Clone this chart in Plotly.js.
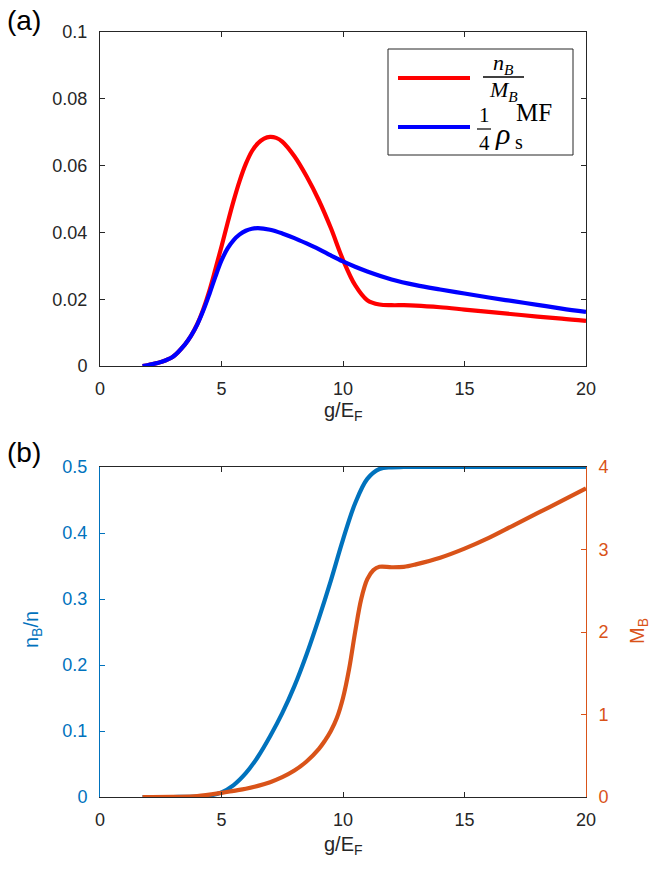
<!DOCTYPE html>
<html><head><meta charset="utf-8">
<script src="https://cdn.plot.ly/plotly-3.0.1.min.js"></script>
<style>body{margin:0;background:#fff;} #chart{width:664px;height:883px;}</style>
</head><body><div id="chart"></div>
<script>
// ---- Panel (a) data ----
const gRatio = [1.75, 2, 2.5, 3, 3.5, 3.75, 4, 4.25, 4.5, 4.75, 5, 5.25, 5.5, 5.75, 6, 6.25, 6.5, 6.75, 7, 7.25, 7.5, 8, 8.5, 9, 9.5, 10, 10.5, 11, 11.5, 12, 12.5, 13, 14, 15, 16, 17, 18, 19, 20];
const ratioNM = [0, 0.0003, 0.0012, 0.0028, 0.0065, 0.0091, 0.0125, 0.017, 0.0225, 0.029, 0.0358, 0.0428, 0.0495, 0.0555, 0.0605, 0.0643, 0.0667, 0.0681, 0.0686, 0.0683, 0.0672, 0.0628, 0.0568, 0.0497, 0.0413, 0.0318, 0.0242, 0.0197, 0.0184, 0.0182, 0.0182, 0.0181, 0.0176, 0.0169, 0.0162, 0.0155, 0.0148, 0.0142, 0.0135];
const gRho = [1.75, 2, 2.5, 3, 3.5, 3.75, 4, 4.25, 4.5, 4.75, 5, 5.25, 5.5, 5.75, 6, 6.25, 6.5, 7, 7.5, 8, 8.5, 9, 9.5, 10, 10.5, 11, 12, 13, 14, 15, 16, 17, 18, 19, 20];
const rhoQuarter = [0, 0.0003, 0.0012, 0.0028, 0.0065, 0.0091, 0.0124, 0.0166, 0.0215, 0.0268, 0.0316, 0.0352, 0.0377, 0.0394, 0.0405, 0.0411, 0.0413, 0.0408, 0.0397, 0.0383, 0.0367, 0.035, 0.0331, 0.0313, 0.0297, 0.0283, 0.0259, 0.0242, 0.0229, 0.0217, 0.0205, 0.0194, 0.0183, 0.0172, 0.0162];
// ---- Panel (b) data ----
const gN = [1.75, 3, 4, 4.5, 5, 5.5, 6, 6.5, 7, 7.5, 8, 8.5, 9, 9.5, 10, 10.5, 11, 11.5, 12, 12.5, 15, 20];
const nBn = [0, 0, 0.0005, 0.002, 0.007, 0.018, 0.036, 0.061, 0.092, 0.127, 0.168, 0.216, 0.27, 0.328, 0.39, 0.445, 0.482, 0.497, 0.4995, 0.5, 0.5, 0.5];
const gM = [1.75, 3, 4, 5, 5.5, 6, 6.5, 7, 7.5, 8, 8.5, 9, 9.25, 9.5, 9.75, 10, 10.25, 10.5, 10.75, 11, 11.25, 11.5, 12, 12.5, 13, 14, 15, 16, 17, 18, 19, 20];
const MB = [0, 0.002, 0.01, 0.05, 0.075, 0.1, 0.135, 0.18, 0.24, 0.32, 0.43, 0.58, 0.68, 0.8, 0.96, 1.2, 1.55, 2.0, 2.4, 2.64, 2.75, 2.79, 2.785, 2.79, 2.82, 2.9, 3.01, 3.14, 3.29, 3.44, 3.59, 3.74];
const xTicks = [0, 5, 10, 15, 20];

const BLUE = '#0072BD', ORANGE = '#D95319', AX = '#262626';
const FONT = 'Liberation Sans, Arial, Helvetica, sans-serif';
const SERIF = 'Liberation Serif, Times New Roman, serif';
const L = 100, R = 586, T = 32, B = 797;
const X = p => (p - L) / (R - L);
const Y = p => (B - p) / (B - T);

const line = (c) => ({color: c, width: 4.2, shape: 'spline', smoothing: 1});
const traces = [
  {x: gRatio, y: ratioNM, xaxis: 'x', yaxis: 'y', mode: 'lines', line: line('#FF0000'), name: 'nB/MB'},
  {x: gRho, y: rhoQuarter, xaxis: 'x', yaxis: 'y', mode: 'lines', line: line('#0000FF'), name: 'rho/4'},
  {x: gN, y: nBn, xaxis: 'x2', yaxis: 'y2', mode: 'lines', line: line(BLUE), name: 'nB/n'},
  {x: gM, y: MB, xaxis: 'x2', yaxis: 'y3', mode: 'lines', line: line(ORANGE), name: 'MB'}
];

const tf = (c) => ({family: FONT, size: 18, color: c});
const xax = (anchor) => ({
  anchor: anchor, domain: [0, 1], range: [0, 20], tickvals: xTicks, ticks: 'inside', ticklen: 5,
  tickcolor: AX, showline: true, linecolor: AX, linewidth: 1, mirror: 'ticks', showgrid: false,
  zeroline: false, tickfont: tf(AX), ticklabelstandoff: 6, automargin: false
});

const ann = (text, px, py, opts) => Object.assign({
  text: text, x: X(px), y: Y(py), xref: 'paper', yref: 'paper', showarrow: false,
  xanchor: 'center', yanchor: 'middle', font: {family: FONT, size: 20, color: AX}
}, opts || {});
const sf = (s) => ({family: SERIF, size: s, color: '#000'});

const layout = {
  width: 664, height: 883, showlegend: false,
  margin: {l: L, r: 664 - R, t: T, b: 883 - B},
  paper_bgcolor: '#fff', plot_bgcolor: '#fff',
  xaxis: xax('y'),
  yaxis: {anchor: 'x', domain: [Y(366), 1], range: [0, 0.1], tickvals: [0, 0.02, 0.04, 0.06, 0.08, 0.1],
    ticktext: ['0', '0.02', '0.04', '0.06', '0.08', '0.1'],
    ticks: 'inside', ticklen: 5, tickcolor: AX, showline: true, linecolor: AX, mirror: 'ticks',
    showgrid: false, zeroline: false, tickfont: tf(AX), ticklabelstandoff: 8, automargin: false},
  xaxis2: xax('y2'),
  yaxis2: {anchor: 'x2', domain: [0, Y(467)], range: [0, 0.5], tickvals: [0, 0.1, 0.2, 0.3, 0.4, 0.5],
    ticktext: ['0', '0.1', '0.2', '0.3', '0.4', '0.5'],
    ticks: 'inside', ticklen: 5, tickcolor: BLUE, showline: true, linecolor: BLUE, mirror: false,
    showgrid: false, zeroline: false, tickfont: tf(BLUE), ticklabelstandoff: 8, automargin: false},
  yaxis3: {anchor: 'x2', overlaying: 'y2', side: 'right', range: [0, 4], tickvals: [0, 1, 2, 3, 4],
    ticks: 'inside', ticklen: 5, tickcolor: ORANGE, showline: true, linecolor: ORANGE,
    showgrid: false, zeroline: false, tickfont: tf(ORANGE), ticklabelstandoff: 8, automargin: false},
  shapes: [
    {type: 'rect', xref: 'paper', yref: 'paper', x0: X(388), x1: X(573), y0: Y(155), y1: Y(49),
      line: {color: AX, width: 1}, fillcolor: '#fff', layer: 'above'},
    {type: 'line', xref: 'paper', yref: 'paper', x0: X(398), x1: X(470), y0: Y(78), y1: Y(78),
      line: {color: '#FF0000', width: 4.2}},
    {type: 'line', xref: 'paper', yref: 'paper', x0: X(398), x1: X(470), y0: Y(127), y1: Y(127),
      line: {color: '#0000FF', width: 4.2}},
    {type: 'line', xref: 'paper', yref: 'paper', x0: X(483), x1: X(524), y0: Y(77), y1: Y(77),
      line: {color: '#000', width: 1.3}},
    {type: 'line', xref: 'paper', yref: 'paper', x0: X(477), x1: X(491), y0: Y(129), y1: Y(129),
      line: {color: '#000', width: 1.2}}
  ],
  annotations: [
    ann('(a)', 24, 20, {font: {family: FONT, size: 28, color: '#000'}}),
    ann('(b)', 24, 452, {font: {family: FONT, size: 28, color: '#000'}}),
    ann('g/E<sub>F</sub>', 343, 411),
    ann('g/E<sub>F</sub>', 343, 845),
    ann('n<sub>B</sub>/n', 32, 630, {textangle: -90, font: {family: FONT, size: 20, color: BLUE}}),
    ann('M<sub>B</sub>', 638, 631, {textangle: -90, font: {family: FONT, size: 20, color: ORANGE}}),
    // legend text (math rendered with plain text pieces)
    ann('<i>n</i><sub><i>B</i></sub>', 503, 64, {font: sf(22)}),
    ann('<i>M</i><sub><i>B</i></sub>', 503, 91, {font: sf(22)}),
    ann('1', 484, 115, {font: sf(21)}),
    ann('4', 484, 143, {font: sf(21)}),
    ann('<i>ρ</i>', 502, 133, {font: sf(30)}),
    ann('MF', 534, 113, {font: sf(25)}),
    ann('s', 519, 142, {font: sf(20)})
  ]
};

Plotly.newPlot('chart', traces, layout, {staticPlot: true, displayModeBar: false});
</script>
</body></html>
